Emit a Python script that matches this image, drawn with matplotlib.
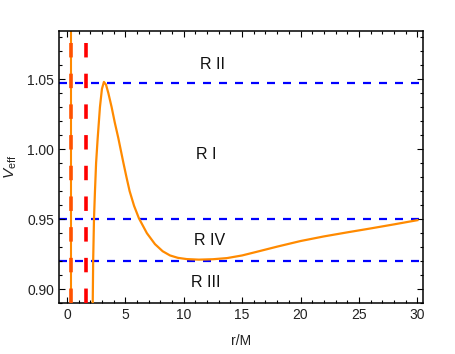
import numpy as np
import matplotlib.pyplot as plt
from matplotlib.ticker import MultipleLocator

plt.rcParams['font.family'] = ['Liberation Sans', 'DejaVu Sans']
plt.rcParams['mathtext.fontset'] = 'custom'
plt.rcParams['mathtext.rm'] = 'Liberation Sans'
plt.rcParams['mathtext.it'] = 'Liberation Sans:italic'

# effective potential (outer branch)
r_outer = [2.20, 2.25, 2.32, 2.40, 2.50, 2.63, 2.83, 3.00, 3.17, 3.35, 3.55,
           3.83, 4.10, 4.40, 4.83, 5.10, 5.37, 5.75, 6.17, 6.85, 7.54, 8.20,
           8.83, 9.50, 10.26, 11.30, 12.50, 13.70, 15.00, 16.25, 18.00,
           20.00, 22.00, 24.00, 26.00, 28.00, 30.00]
v_outer = [0.880, 0.920, 0.950, 0.969, 0.990, 1.007, 1.030, 1.043, 1.048,
           1.046, 1.040, 1.030, 1.019, 1.008, 0.9905, 0.980, 0.970, 0.9595,
           0.9505, 0.9399, 0.9321, 0.9270, 0.9240, 0.9223, 0.9214, 0.9210,
           0.9213, 0.9221, 0.9240, 0.9266, 0.9303, 0.9343, 0.9376, 0.9405,
           0.9433, 0.9462, 0.9492]

# inner branch (vertical, inside the inner horizon)
r_inner = [0.33, 0.33]
v_inner = [0.85, 1.10]

# horizons
r_minus = 0.33
r_plus = 1.60

# energy levels
levels = [1.0476, 0.95, 0.92]

# region labels
region_text = ["R II", "R I", "R IV", "R III"]
region_r = [12.5, 11.9, 12.2, 11.9]
region_v = [1.0605, 0.9958, 0.9348, 0.9044]

fig = plt.figure(figsize=(4.56, 3.54), dpi=100)
ax = fig.add_axes([0.129, 0.144, 0.799, 0.768])

orange = '#ff8a00'
ax.plot(r_inner, v_inner, color=orange, lw=1.5, zorder=2)
ax.axvline(r_minus, color='#ff5200', lw=2.6, ls=(0, (4, 4.5)), zorder=3)
ax.axvline(r_plus, color='#ff0000', lw=2.6, ls=(0, (4, 4.5)), zorder=3)
ax.plot(r_outer, v_outer, color=orange, lw=1.6, zorder=4)
for lv in levels:
    ax.axhline(lv, color='#0000ff', lw=1.6, ls=(0, (3.6, 3.6)), zorder=1)

for t, x, y in zip(region_text, region_r, region_v):
    ax.text(x, y, t, fontsize=11.5, ha='center', va='center', color='#111111')

ax.set_xlim(-0.69, 30.5)
ax.set_ylim(0.89, 1.0843)
ax.xaxis.set_major_locator(MultipleLocator(5))
ax.xaxis.set_minor_locator(MultipleLocator(1))
ax.yaxis.set_major_locator(MultipleLocator(0.05))
ax.yaxis.set_minor_locator(MultipleLocator(0.01))
ax.yaxis.set_major_formatter(plt.FuncFormatter(lambda v, p: f"{v:.2f}"))
ax.tick_params(which='both', direction='in', top=True, right=True,
               labelsize=10, labelcolor='#222222', width=0.8)
ax.tick_params(which='major', length=4)
ax.tick_params(which='minor', length=2.2)
for s in ax.spines.values():
    s.set_linewidth(1.1)

ax.set_xlabel("r/M", fontsize=10, color='#222222', labelpad=9)
ax.set_ylabel(r"$V_{\mathrm{eff}}$", fontsize=11, color='#222222', labelpad=6)

fig.savefig("out.png", dpi=100)
